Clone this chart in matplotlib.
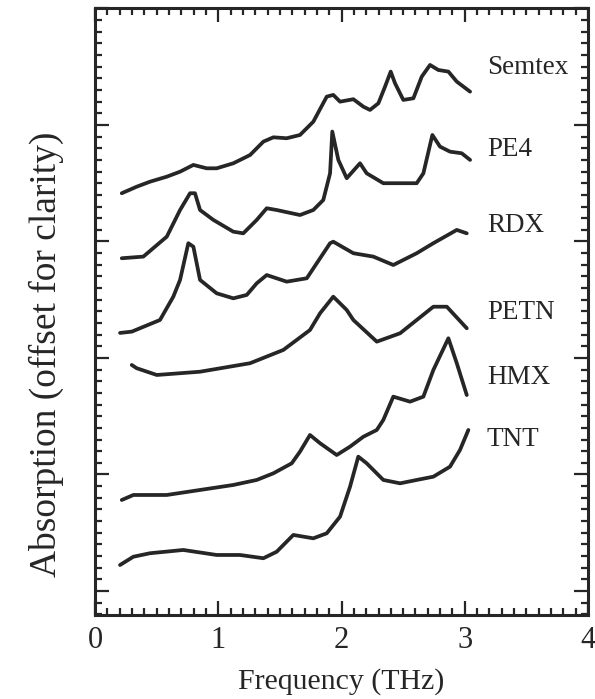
import matplotlib
matplotlib.use("Agg")
import matplotlib.pyplot as plt
from matplotlib.ticker import MultipleLocator

plt.rcParams['font.family'] = ['Liberation Serif', 'DejaVu Serif']

# spectra (frequency in THz, absorption with offset)
semtex_x = [0.217, 0.338, 0.446, 0.582, 0.690, 0.798, 0.906, 0.987, 1.122, 1.258, 1.366,
            1.447, 1.555, 1.663, 1.771, 1.880, 1.933, 1.988, 2.096, 2.177, 2.231, 2.299,
            2.353, 2.399, 2.434, 2.501, 2.583, 2.651, 2.718, 2.785, 2.867, 2.935, 3.043]
semtex_y = [3.414, 3.470, 3.513, 3.556, 3.599, 3.657, 3.628, 3.628, 3.671, 3.742, 3.857,
            3.894, 3.886, 3.914, 4.028, 4.243, 4.258, 4.200, 4.221, 4.157, 4.129, 4.186,
            4.329, 4.458, 4.358, 4.215, 4.229, 4.415, 4.515, 4.472, 4.458, 4.372, 4.286]

pe4_x = [0.217, 0.392, 0.582, 0.690, 0.771, 0.811, 0.852, 0.960, 1.122, 1.203, 1.312,
         1.393, 1.474, 1.663, 1.771, 1.852, 1.907, 1.925, 1.974, 2.042, 2.150, 2.204,
         2.339, 2.610, 2.664, 2.737, 2.799, 2.880, 2.975, 3.043]
pe4_y = [2.856, 2.870, 3.041, 3.270, 3.414, 3.414, 3.270, 3.185, 3.084, 3.070, 3.185,
         3.285, 3.270, 3.227, 3.270, 3.356, 3.585, 3.943, 3.700, 3.543, 3.671, 3.585,
         3.500, 3.500, 3.585, 3.914, 3.814, 3.771, 3.757, 3.700]

rdx_x = [0.203, 0.298, 0.527, 0.635, 0.690, 0.757, 0.798, 0.852, 0.987, 1.122, 1.231,
         1.312, 1.393, 1.555, 1.718, 1.907, 1.933, 2.096, 2.258, 2.420, 2.610, 2.745,
         2.935, 3.016]
rdx_y = [2.215, 2.226, 2.326, 2.526, 2.670, 2.985, 2.955, 2.670, 2.555, 2.512, 2.541,
         2.641, 2.712, 2.655, 2.684, 2.985, 2.998, 2.899, 2.870, 2.798, 2.899, 2.985,
         3.099, 3.070]

petn_x = [0.298, 0.338, 0.501, 0.852, 1.258, 1.528, 1.744, 1.826, 1.933, 2.042, 2.096,
          2.286, 2.475, 2.745, 2.854, 3.016]
petn_y = [1.940, 1.912, 1.854, 1.882, 1.955, 2.069, 2.240, 2.384, 2.526, 2.412, 2.326,
          2.140, 2.212, 2.440, 2.440, 2.255]

hmx_x = [0.217, 0.311, 0.582, 0.852, 1.122, 1.312, 1.447, 1.596, 1.663, 1.744, 1.826,
         1.961, 2.069, 2.177, 2.286, 2.339, 2.420, 2.556, 2.664, 2.745, 2.867, 2.935, 3.016]
hmx_y = [0.781, 0.824, 0.824, 0.867, 0.910, 0.953, 1.010, 1.096, 1.196, 1.339, 1.268,
         1.167, 1.239, 1.324, 1.382, 1.468, 1.668, 1.625, 1.668, 1.897, 2.169, 1.955, 1.682]

tnt_x = [0.203, 0.311, 0.446, 0.716, 0.987, 1.176, 1.366, 1.474, 1.609, 1.771, 1.880,
         1.988, 2.069, 2.136, 2.204, 2.339, 2.475, 2.610, 2.745, 2.880, 2.961, 3.029]
tnt_y = [0.223, 0.294, 0.324, 0.352, 0.309, 0.309, 0.281, 0.337, 0.481, 0.452, 0.495,
         0.638, 0.895, 1.153, 1.096, 0.953, 0.924, 0.953, 0.981, 1.067, 1.210, 1.382]

names = ['Semtex', 'PE4', 'RDX', 'PETN', 'HMX', 'TNT']
label_y = [4.49, 3.79, 3.14, 2.39, 1.83, 1.30]

fig = plt.figure(figsize=(5.95, 6.99), dpi=100)
ax = fig.add_axes([0.1597, 0.1202, 0.8286, 0.8677])

ink = '#262626'
for xs, ys in [(semtex_x, semtex_y), (pe4_x, pe4_y), (rdx_x, rdx_y),
               (petn_x, petn_y), (hmx_x, hmx_y), (tnt_x, tnt_y)]:
    ax.plot(xs, ys, color=ink, lw=2.7, solid_capstyle='round', solid_joinstyle='round')

for name, ly in zip(names, label_y):
    ax.text(3.18, ly, name, fontsize=19.5, color=ink, va='center', ha='left')

ax.set_xlim(0, 4)
ax.set_ylim(-0.206, 5.0)
ax.xaxis.set_major_locator(MultipleLocator(1))
ax.xaxis.set_minor_locator(MultipleLocator(0.1))
ax.yaxis.set_major_locator(MultipleLocator(1))
ax.yaxis.set_minor_locator(MultipleLocator(0.1))
ax.tick_params(which='both', direction='in', top=True, right=True, color=ink, width=1.6)
ax.tick_params(which='major', length=10, labelsize=22, pad=8, labelcolor=ink)
ax.tick_params(which='minor', length=5)
ax.tick_params(axis='y', labelleft=False)
for s in ax.spines.values():
    s.set_linewidth(2.2)
    s.set_color(ink)

ax.set_xlabel('Frequency (THz)', fontsize=21.5, color=ink, labelpad=9)
ax.set_ylabel('Absorption (offset for clarity)', fontsize=27, color=ink)
ax.yaxis.set_label_coords(-0.062, 0.43)

fig.savefig('out.png', dpi=100)
